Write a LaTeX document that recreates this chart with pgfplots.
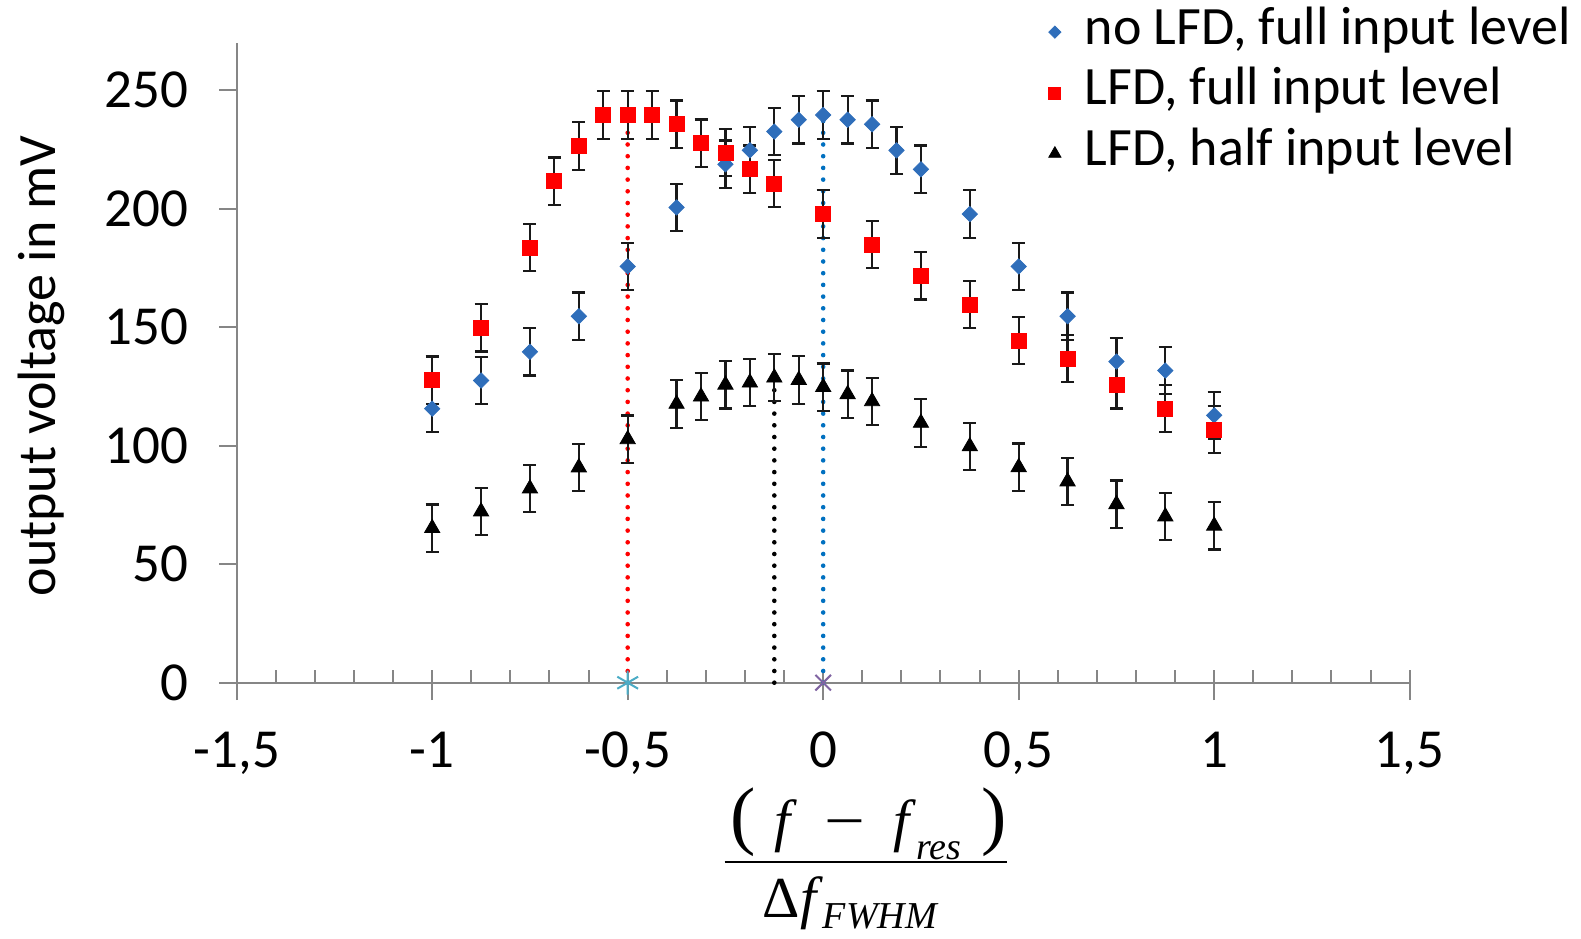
\documentclass[border=0pt]{standalone}
\usepackage{fontspec}
\setmainfont{Carlito}
\newfontfamily\tnr{Liberation Serif}
\usepackage{pgfplots}
\pgfplotsset{compat=1.18}
\definecolor{serblue}{RGB}{47,110,186}
\definecolor{dotblue}{RGB}{0,112,192}
\definecolor{axgray}{RGB}{134,134,134}
\definecolor{tealx}{RGB}{75,172,198}
\definecolor{purp}{RGB}{128,100,162}
\definecolor{ebar}{RGB}{25,25,25}

\newcommand{\subsc}[1]{\raisebox{-0.32em}{\fontsize{19}{19}\selectfont\itshape #1}}
\newcommand{\subscd}[1]{\raisebox{-0.2em}{\fontsize{19}{19}\selectfont\itshape #1}}
\newcommand{\fraclabel}{{\tnr\fontsize{29}{33}\selectfont\setlength{\arrayrulewidth}{1.3pt}\setlength{\tabcolsep}{0pt}%
\begin{tabular}{c}
\hspace{3pt}{\fontsize{38}{38}\selectfont(}\hspace{9pt}\textit{f}\hspace{14pt}\scalebox{1.25}[1]{−}\hspace{14pt}\textit{f}\subsc{res}\hspace{10pt}{\fontsize{38}{38}\selectfont)}\rule[-6pt]{0pt}{6pt}\\\hline
\rule{0pt}{27pt}Δ\textit{f}\subscd{FWHM}\hspace{16pt}
\end{tabular}}}

\pgfplotstableread{
x y
-1 115.6
-0.875 127.5
-0.75 139.6
-0.625 154.6
-0.5 175.6
-0.375 200.5
-0.25 218.7
-0.1875 224.6
-0.125 232.5
-0.0625 237.5
0 239.5
0.0625 237.5
0.125 235.6
0.1875 224.6
0.25 216.6
0.375 197.7
0.5 175.6
0.625 154.6
0.75 135.5
0.875 131.7
1 112.8
}\noLFDfull

\pgfplotstableread{
x y
-1 127.6
-0.875 149.7
-0.75 183.6
-0.6875 211.6
-0.625 226.4
-0.5625 239.5
-0.5 239.5
-0.4375 239.5
-0.375 235.6
-0.3125 227.6
-0.25 223.6
-0.1875 216.6
-0.125 210.6
0 197.7
0.125 184.8
0.25 171.7
0.375 159.5
0.5 144.4
0.625 136.7
0.75 125.7
0.875 115.6
1 106.8
}\LFDfull

\pgfplotstableread{
x y
-1 65.2
-0.875 72.2
-0.75 81.9
-0.625 90.8
-0.5 102.7
-0.375 117.6
-0.3125 120.7
-0.25 125.7
-0.1875 126.6
-0.125 128.7
-0.0625 127.7
0 124.7
0.0625 121.7
0.125 118.7
0.25 109.6
0.375 99.7
0.5 90.9
0.625 84.9
0.75 75.3
0.875 70.1
1 66.2
}\LFDhalf

\begin{document}
\begin{tikzpicture}
\begin{axis}[
  scale only axis, width=586.5pt, height=320pt,
  xmin=-1.5, xmax=1.5, ymin=0, ymax=270,
  clip=false,
  axis lines=left,
  axis line style={-, draw=axgray, line width=1pt},
  tick align=outside,
  major tick length=8.7pt, minor tick length=6.3pt,
  tick style={draw=axgray, line width=1pt},
  xtick={-1.5,-1,-0.5,0,0.5,1,1.5},
  minor xtick={-1.5,-1.4,-1.3,-1.2,-1.1,-1,-0.9,-0.8,-0.7,-0.6,-0.5,-0.4,-0.3,-0.2,-0.1,0,0.1,0.2,0.3,0.4,0.5,0.6,0.7,0.8,0.9,1,1.1,1.2,1.3,1.4,1.5},
  minor x tick style={yshift=6.3pt},
  ytick={0,50,100,150,200,250},
  ticklabel style={font=\fontsize{27.5}{32}\selectfont},
  xticklabel style={yshift=-12.4pt},
  yticklabel style={xshift=-12pt},
  /pgf/number format/use comma,
  /pgf/number format/1000 sep={},
  /pgf/number format/assume math mode=true,
  xlabel={\fraclabel},
  xlabel style={at={(rel axis cs:0.5363,-0.281)}, anchor=center},
  ylabel={output voltage in mV},
  ylabel style={at={(rel axis cs:-0.1666,0.495)}, anchor=center, font=\fontsize{27}{32}\selectfont},
  legend style={at={(rel axis cs:0.689,1.054)}, anchor=north west, draw=none, fill=none,
    inner sep=0pt, outer sep=0pt, row sep=6.4pt, column sep=10pt,
    font=\fontsize{27}{32}\selectfont,
    nodes={inner sep=0pt, text height=18pt, text depth=6pt}},
  legend cell align=left,
  legend image code/.code={\path[draw=none,fill=none] (0pt,-3pt) rectangle (10pt,3pt); \draw[#1, every mark/.append style={scale=0.8}] plot coordinates {(5pt,0pt)};},
  error bars/error bar style={line width=1.1pt, draw=ebar},
  error bars/error mark options={rotate=90, mark size=3.25pt, line width=1.1pt, draw=ebar},
]
% dotted guide lines and axis markers
\addplot[forget plot, red, line width=2.3pt, line cap=round, dash pattern=on 0pt off 5.85pt] coordinates {(-0.5,0) (-0.5,240)};
\addplot[forget plot, dotblue, line width=2.3pt, line cap=round, dash pattern=on 0pt off 5.85pt] coordinates {(0,0) (0,240)};
\addplot[forget plot, black, line width=2.3pt, line cap=round, dash pattern=on 0pt off 5.85pt] coordinates {(-0.125,0) (-0.125,128)};
\addplot[forget plot, only marks, mark=asterisk, mark size=6pt, mark options={draw=tealx, line width=1pt}] coordinates {(-0.5,0)};
\addplot[forget plot, only marks, mark=x, mark size=5.5pt, mark options={draw=purp, line width=1pt}] coordinates {(0,0)};
% data
\addplot[only marks, mark=square*, mark size=2.7pt, mark options={rotate=45, fill=serblue, draw=serblue},
  error bars/.cd, y dir=both, y fixed=10] table[x=x,y=y] {\noLFDfull};
\addlegendentry{no LFD, full input level}
\addplot[only marks, mark=square*, mark size=3.75pt, mark options={fill=red, draw=red},
  error bars/.cd, y dir=both, y fixed=10] table[x=x,y=y] {\LFDfull};
\addlegendentry{LFD, full input level}
\addplot[only marks, mark=triangle*, mark size=4.4pt, mark options={fill=black, draw=black},
  error bars/.cd, y dir=both, y fixed=10] table[x=x,y=y] {\LFDhalf};
\addlegendentry{LFD, half input level}
\end{axis}
\pgfresetboundingbox
\path (-118.35pt,-127.65pt) rectangle (672.15pt,341.35pt);
\end{tikzpicture}
\end{document}
